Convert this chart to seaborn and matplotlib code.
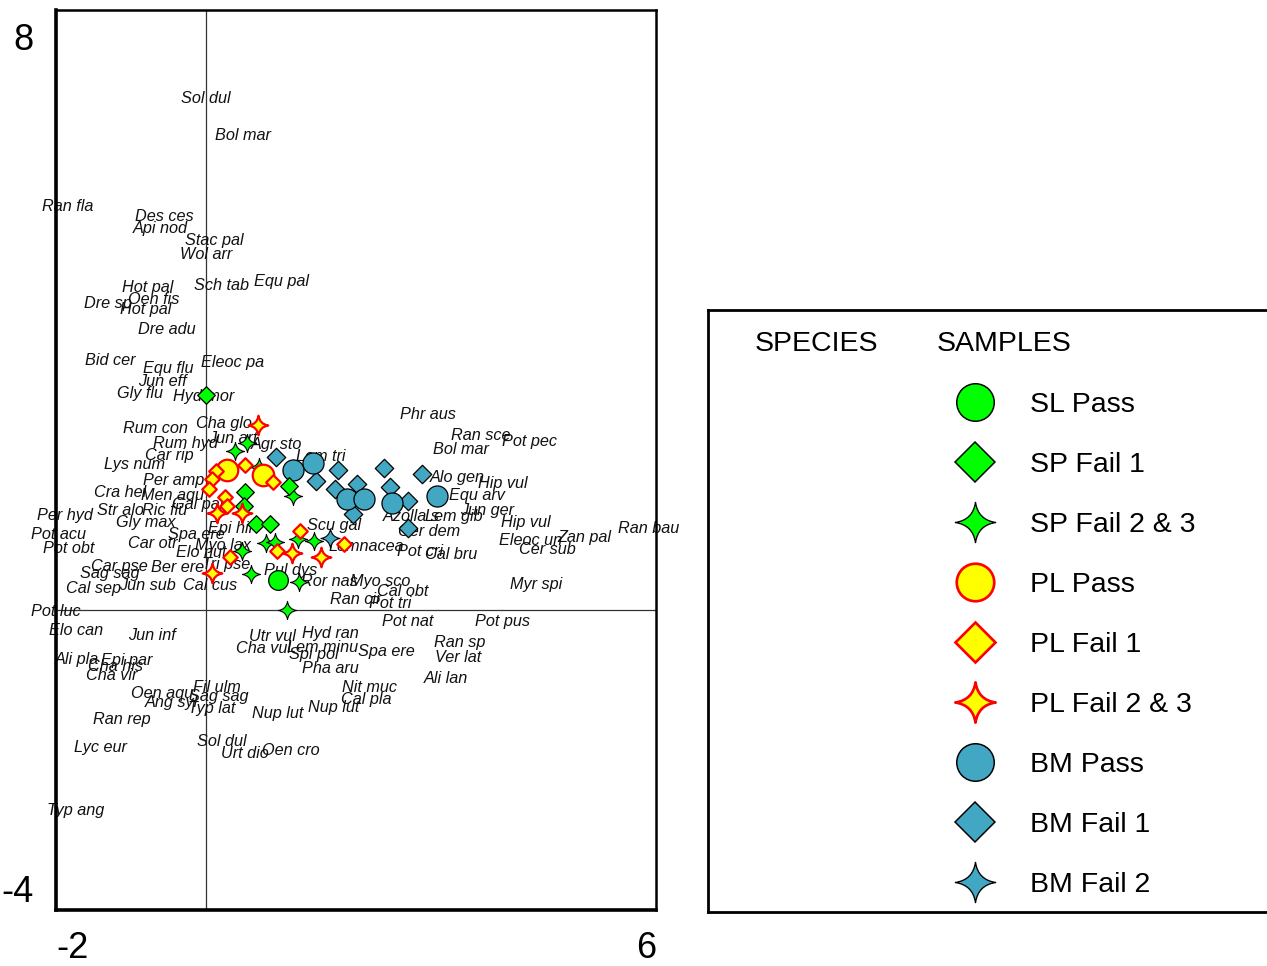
import numpy as np
import pandas as pd
import matplotlib
matplotlib.use("Agg")
import matplotlib.pyplot as plt
import matplotlib.transforms as mtransforms
from matplotlib.path import Path
import seaborn as sns

sns.set_theme(style="white")
plt.rcParams["font.family"] = ["Liberation Sans", "DejaVu Sans"]

# ---------------- species scores (label anchor positions) ----------------
species_names = [
    "Sol dul", "Bol mar", "Ran fla", "Des ces", "Api nod", "Stac pal", "Wol arr",
    "Hot pal", "Sch tab", "Equ pal", "Dre sp", "Oen fis", "Hot pal", "Dre adu",
    "Bid cer", "Equ flu", "Eleoc pa", "Jun eff", "Gly flu", "Hyd mor", "Phr aus",
    "Rum con", "Cha glo", "Ran sce", "Pot pec", "Rum hyd", "Jun art", "Agr sto",
    "Bol mar", "Car rip", "Lem tri", "Lys num", "Alo gen", "Per amp", "Hip vul",
    "Cra hel", "Men aqu", "Equ arv", "Gal pal", "Str alo", "Ric flu", "Jun ger",
    "Lem gib", "Azolla s", "Per hyd", "Gly max", "Hip vul", "Scu gal", "Epi hir",
    "Ran bau", "Cer dem", "Pot acu", "Spa ere", "Eleoc un", "Zan pal", "Pot obt",
    "Car otr", "Myo lax", "Lemnacea", "Elo nut", "Cer sub", "Pot cri", "Cal bru",
    "Car pse", "Ber ere", "Tri pse", "Pul dys", "Sag sag", "Myo sco", "Ror nas",
    "Myr spi", "Cal sep", "Jun sub", "Cal cus", "Cal obt", "Ran cir", "Pot tri",
    "Pot luc", "Pot nat", "Pot pus", "Elo can", "Jun inf", "Hyd ran", "Utr vul",
    "Ran sp", "Cha vul", "Lem minu", "Spa ere", "Spi pol", "Ali pla", "Epi par",
    "Ver lat", "Cha his", "Pha aru", "Cha vir", "Ali lan", "Fil ulm", "Nit muc",
    "Oen aqu", "Sag sag", "Ang syl", "Cal pla", "Typ lat", "Nup lut", "Nup lut",
    "Ran rep", "Sol dul", "Lyc eur", "Urt dio", "Oen cro", "Typ ang",
]
species_x = [
    -0.33, 0.12, -2.19, -0.95, -0.97, -0.28, -0.35,
    -1.12, -0.16, 0.64, -1.63, -1.04, -1.15, -0.91,
    -1.61, -0.84, -0.07, -0.91, -1.19, -0.44, 2.59,
    -1.11, -0.13, 3.27, 3.95, -0.71, 0.03, 0.60,
    3.03, -0.81, 1.20, -1.36, 2.99, -0.84, 3.63,
    -1.49, -0.87, 3.24, -0.45, -1.45, -0.85, 3.39,
    2.92, 2.36, -2.25, -1.20, 3.93, 1.35, 0.03,
    5.49, 2.56, -2.33, -0.51, 3.91, 4.68, -2.17,
    -1.04, -0.15, 1.63, -0.40, 4.17, 2.55, 2.92,
    -1.53, -0.73, -0.05, 0.77, -1.68, 1.92, 1.27,
    4.05, -1.87, -1.16, -0.31, 2.28, 1.65, 2.17,
    -2.33, 2.35, 3.59, -2.09, -1.04, 1.28, 0.57,
    3.04, 0.40, 1.08, 2.03, 1.11, -2.01, -1.40,
    3.05, -1.57, 1.28, -1.60, 2.91, -0.17, 1.81,
    -1.00, -0.23, -0.81, 1.80, -0.24, 0.61, 1.36,
    -1.51, -0.12, -1.76, 0.20, 0.75, -2.12,
]
species_y = [
    6.85, 6.35, 5.41, 5.28, 5.12, 4.96, 4.77,
    4.33, 4.35, 4.41, 4.12, 4.17, 4.03, 3.77,
    3.36, 3.25, 3.33, 3.08, 2.92, 2.88, 2.64,
    2.45, 2.52, 2.36, 2.28, 2.25, 2.32, 2.23,
    2.17, 2.09, 2.08, 1.97, 1.80, 1.76, 1.71,
    1.59, 1.55, 1.56, 1.43, 1.36, 1.36, 1.36,
    1.28, 1.27, 1.29, 1.19, 1.20, 1.15, 1.11,
    1.12, 1.08, 1.03, 1.03, 0.96, 0.99, 0.85,
    0.91, 0.89, 0.88, 0.80, 0.83, 0.81, 0.77,
    0.61, 0.60, 0.63, 0.55, 0.51, 0.41, 0.41,
    0.37, 0.31, 0.35, 0.36, 0.27, 0.17, 0.11,
    0.01, -0.13, -0.13, -0.24, -0.31, -0.29, -0.33,
    -0.40, -0.49, -0.47, -0.52, -0.57, -0.63, -0.64,
    -0.61, -0.72, -0.75, -0.85, -0.89, -1.00, -1.00,
    -1.09, -1.13, -1.21, -1.17, -1.28, -1.35, -1.27,
    -1.43, -1.72, -1.81, -1.88, -1.84, -2.65,
]

# ---------------- sample scores by group ----------------
sl_pass_x = [0.96]
sl_pass_y = [0.40]

sp_fail1_x = [0.00, 0.52, 1.11, 0.51, 0.67, 0.85]
sp_fail1_y = [2.87, 1.57, 1.65, 1.39, 1.15, 1.15]

sp_fail23_x = [0.39, 0.55, 0.71, 1.16, 0.48, 0.80, 0.92, 1.23, 1.44, 0.60, 1.24, 1.08]
sp_fail23_y = [2.12, 2.23, 1.91, 1.52, 0.79, 0.89, 0.91, 0.95, 0.92, 0.48, 0.37, 0.00]

pl_pass_x = [0.28, 0.76]
pl_pass_y = [1.87, 1.80]

pl_fail1_x = [0.52, 0.13, 0.08, 0.04, 0.89, 0.25, 0.28, 1.25, 1.84, 0.95, 0.32]
pl_fail1_y = [1.93, 1.85, 1.75, 1.61, 1.71, 1.51, 1.39, 1.05, 0.88, 0.79, 0.71]

pl_fail23_x = [0.69, 0.15, 0.48, 1.15, 1.53, 0.08]
pl_fail23_y = [2.47, 1.29, 1.29, 0.76, 0.71, 0.49]

bm_pass_x = [1.16, 1.43, 1.88, 2.11, 2.48, 3.08]
bm_pass_y = [1.87, 1.96, 1.48, 1.48, 1.43, 1.52]

bm_fail1_x = [0.93, 1.76, 1.47, 2.01, 2.37, 1.72, 2.45, 2.88, 1.96, 2.69, 2.69]
bm_fail1_y = [2.04, 1.87, 1.72, 1.68, 1.89, 1.61, 1.64, 1.81, 1.28, 1.45, 1.09]

bm_fail2_x = [1.65]
bm_fail2_y = [0.96]

legend_labels = ["SL Pass", "SP Fail 1", "SP Fail 2 & 3", "PL Pass", "PL Fail 1",
                 "PL Fail 2 & 3", "BM Pass", "BM Fail 1", "BM Fail 2"]

x_ticks = [-2, 0, 2, 4, 6]
x_ticklabels = ["-2", "", "", "", "6"]
y_ticks = [-4, -2, 0, 2, 4, 6, 8]
y_ticklabels = ["-4", "", "", "", "", "", "8"]

# ---------------- marker styles ----------------
c = 0.13
sparkle = Path(
    [(0, 1), (c, c), (1, 0), (c, -c), (0, -1), (-c, -c), (-1, 0), (-c, c), (0, 1), (0, 1)],
    [Path.MOVETO, Path.CURVE3, Path.CURVE3, Path.CURVE3, Path.CURVE3,
     Path.CURVE3, Path.CURVE3, Path.CURVE3, Path.CURVE3, Path.CLOSEPOLY],
)

GREEN = "#00FF00"
YELLOW = "#FFFF00"
RED = "#FF0000"
BLUE = "#42A7C3"

# (x, y, marker, plot size, legend size, face, edge, edge width)
groups = {
    "BM Fail 1": (bm_fail1_x, bm_fail1_y, "D", 88, 20, BLUE, "black", 0.9),
    "BM Pass": (bm_pass_x, bm_pass_y, "o", 230, 27, BLUE, "black", 0.9),
    "BM Fail 2": (bm_fail2_x, bm_fail2_y, sparkle, 190, 29, BLUE, "black", 0.8),
    "SP Fail 2 & 3": (sp_fail23_x, sp_fail23_y, sparkle, 170, 29, GREEN, "black", 0.8),
    "SP Fail 1": (sp_fail1_x, sp_fail1_y, "D", 80, 20, GREEN, "black", 0.9),
    "SL Pass": (sl_pass_x, sl_pass_y, "o", 200, 27, GREEN, "black", 0.9),
    "PL Pass": (pl_pass_x, pl_pass_y, "o", 240, 27, YELLOW, RED, 1.6),
    "PL Fail 1": (pl_fail1_x, pl_fail1_y, "D", 55, 20, YELLOW, RED, 1.6),
    "PL Fail 2 & 3": (pl_fail23_x, pl_fail23_y, sparkle, 200, 29, YELLOW, RED, 1.6),
}

W, H = 1267, 966
fig = plt.figure(figsize=(W / 100, H / 100), dpi=100)

ax = fig.add_axes([56 / W, 1 - 910 / H, 600 / W, 900 / H])
ax.set_xlim(-2, 6)
ax.set_ylim(-4, 8)

# zero reference lines
ax.axvline(0, color="#333333", lw=0.9, zorder=1)
ax.axhline(0, color="#333333", lw=0.9, zorder=1)

# species labels
label_nudge = ax.transData + mtransforms.ScaledTranslation(0, -1.5 / 72, fig.dpi_scale_trans)
for name, sx, sy in zip(species_names, species_x, species_y):
    ax.text(sx, sy, name, fontsize=11.7, fontstyle="italic", color="#111111",
            ha="left", va="center", zorder=2, transform=label_nudge)

# sample points
for label, (gx, gy, mk, s, _, face, edge, lw) in groups.items():
    df = pd.DataFrame({"x": gx, "y": gy})
    sns.scatterplot(data=df, x="x", y="y", marker=mk, s=s, color=face,
                    edgecolor=edge, linewidth=lw, ax=ax, legend=False, zorder=3)

ax.set_xlabel("")
ax.set_ylabel("")
ax.set_xticks(x_ticks, x_ticklabels)
ax.set_yticks(y_ticks, y_ticklabels)
ax.tick_params(direction="inout", length=12, width=2, color="black",
               labelsize=26, labelcolor="black")
ax.tick_params(axis="x", pad=9)
ax.tick_params(axis="y", pad=10)
xl = ax.get_xticklabels()
xl[0].set_ha("left")
xl[-1].set_ha("right")
yl = ax.get_yticklabels()
yl[0].set_va("bottom")
yl[-1].set_va("top")
shift_down = mtransforms.ScaledTranslation(0, -9 / 72, fig.dpi_scale_trans)
yl[-1].set_transform(yl[-1].get_transform() + shift_down)

for side in ["left", "bottom"]:
    ax.spines[side].set_linewidth(2.6)
for side in ["top", "right"]:
    ax.spines[side].set_linewidth(1.8)
for sp in ax.spines.values():
    sp.set_color("black")

# ---------------- legend panel ----------------
lx0, lx1, ly0, ly1 = 708, 1320, 310, 912
lax = fig.add_axes([lx0 / W, 1 - ly1 / H, (lx1 - lx0) / W, (ly1 - ly0) / H])
lax.set_xlim(lx0, lx1)
lax.set_ylim(ly1, ly0)
lax.set_xticks([])
lax.set_yticks([])
for side in ["left", "top", "bottom"]:
    lax.spines[side].set_linewidth(2)
    lax.spines[side].set_color("black")
lax.spines["right"].set_visible(False)
lax.set_facecolor("white")

lax.text(755, 344, "SPECIES", fontsize=20.5, ha="left", va="center", color="black")
lax.text(937, 344, "SAMPLES", fontsize=20.5, ha="left", va="center", color="black")

for i, label in enumerate(legend_labels):
    yy = 402 + 60 * i
    _, _, mk, _, ms, face, edge, lw = groups[label]
    lax.plot([975], [yy], marker=mk, markersize=ms, markerfacecolor=face,
             markeredgecolor=edge, markeredgewidth=lw * 1.2, linestyle="none")
    lax.text(1030, yy + 3, label, fontsize=20.5, ha="left", va="center", color="black")

fig.savefig("out.png", dpi=100, facecolor="white")
